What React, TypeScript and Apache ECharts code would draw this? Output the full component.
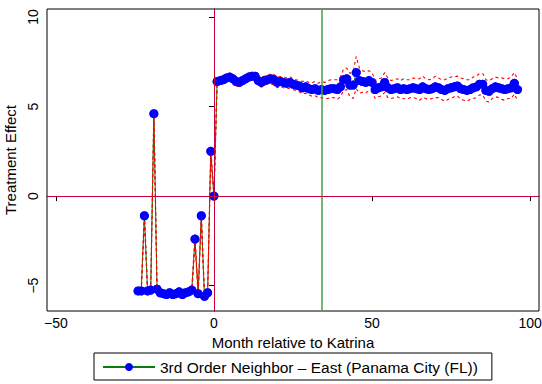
import React, { useEffect, useRef } from "react";
import * as echarts from "echarts";

// Months relative to Katrina (x positions of the monthly estimates)
const months: number[] = Array.from({ length: 121 }, (_, i) => i - 24);

// Point estimates, months -24 .. 96
const estimate: number[] = [
  // -24 .. 0
  -5.3, -5.3, -1.1, -5.3, -5.25, 4.6, -5.2, -5.4, -5.45, -5.5,
  -5.4, -5.5, -5.45, -5.35, -5.5, -5.4, -5.35, -5.25, -2.4, -5.45,
  -1.1, -5.6, -5.4, 2.5, 0,
  // 1 .. 10
  6.4, 6.45, 6.5, 6.6, 6.65, 6.55, 6.4, 6.35, 6.45, 6.55,
  // 11 .. 20
  6.65, 6.7, 6.7, 6.45, 6.35, 6.45, 6.5, 6.55, 6.5, 6.35,
  // 21 .. 30
  6.4, 6.35, 6.3, 6.35, 6.25, 6.2, 6.15, 6.05, 6.1, 6.0,
  // 31 .. 40
  5.95, 6.0, 5.9, 5.95, 5.9, 5.95, 6.0, 6.0, 5.95, 6.1,
  // 41 .. 50
  6.5, 6.55, 6.2, 6.2, 6.9, 6.45, 6.4, 6.35, 6.45, 6.35,
  // 51 .. 60
  5.95, 6.05, 6.1, 6.35, 6.05, 5.95, 6.0, 6.05, 5.95, 6.0,
  // 61 .. 70
  5.95, 6.0, 6.05, 6.0, 5.95, 6.1, 6.0, 5.95, 6.0, 6.1,
  // 71 .. 80
  6.05, 5.95, 5.9, 6.0, 6.05, 6.1, 6.15, 6.0, 5.95, 5.9,
  // 81 .. 90
  5.95, 6.05, 6.1, 6.25, 6.25, 5.9, 5.85, 6.0, 6.1, 6.05,
  // 91 .. 96
  6.0, 5.95, 6.0, 6.05, 6.3, 5.95,
];

// Half-width of the confidence band
const ciHalf: number[] = [
  // -24 .. 0
  0.15, 0.15, 0.25, 0.15, 0.15, 0.3, 0.15, 0.15, 0.15, 0.15,
  0.15, 0.15, 0.15, 0.15, 0.15, 0.15, 0.15, 0.15, 0.2, 0.15,
  0.2, 0.15, 0.15, 0.2, 0.05,
  // 1 .. 10
  0.2, 0.2, 0.2, 0.22, 0.2, 0.22, 0.25, 0.25, 0.22, 0.2,
  // 11 .. 20
  0.2, 0.22, 0.2, 0.25, 0.28, 0.25, 0.25, 0.28, 0.3, 0.3,
  // 21 .. 30
  0.28, 0.3, 0.3, 0.32, 0.3, 0.3, 0.32, 0.35, 0.35, 0.35,
  // 31 .. 40
  0.38, 0.4, 0.4, 0.45, 0.45, 0.5, 0.5, 0.5, 0.55, 0.55,
  // 41 .. 50
  0.6, 0.6, 0.65, 0.75, 0.9, 0.7, 0.6, 0.6, 0.55, 0.55,
  // 51 .. 60
  0.5, 0.5, 0.5, 0.55, 0.55, 0.5, 0.5, 0.5, 0.5, 0.55,
  // 61 .. 70
  0.55, 0.5, 0.55, 0.55, 0.6, 0.6, 0.55, 0.55, 0.55, 0.6,
  // 71 .. 80
  0.55, 0.55, 0.6, 0.6, 0.6, 0.55, 0.55, 0.6, 0.6, 0.6,
  // 81 .. 90
  0.55, 0.6, 0.6, 0.6, 0.6, 0.6, 0.6, 0.55, 0.55, 0.55,
  // 91 .. 96
  0.6, 0.6, 0.55, 0.6, 0.6, 0.6,
];

const xTicks: number[] = [-50, 0, 50, 100];
const yTicks: number[] = [-5, 0, 5, 10];
const eventMonth = 0;
const greenLineMonth = 34;
const zeroEffect = 0;

const seriesName = "3rd Order Neighbor \u2013 East (Panama City (FL))";

export default function App() {
  const ref = useRef<HTMLDivElement>(null);

  useEffect(() => {
    if (!ref.current) return;
    const chart = echarts.init(ref.current, null, { renderer: "svg" });
    const font = "'Liberation Sans', Arial, Helvetica, sans-serif";
    const fmt = (v: number) => (v < 0 ? "\u2212" + Math.abs(v) : String(v));

    const est = months.map((m, i) => [m, estimate[i]]);
    const upper = months.map((m, i) => [m, +(estimate[i] + ciHalf[i]).toFixed(3)]);
    const lower = months.map((m, i) => [m, +(estimate[i] - ciHalf[i]).toFixed(3)]);

    chart.setOption({
      animation: false,
      backgroundColor: "#ffffff",
      textStyle: { fontFamily: font },
      grid: {
        left: 47,
        right: 3,
        top: 9,
        bottom: 73,
        containLabel: false,
        outerBoundsMode: "none",
        show: true,
        borderColor: "#000",
        borderWidth: 1,
        backgroundColor: "#fff",
      },
      legend: {
        data: [seriesName],
        left: 94,
        top: 353,
        padding: [6, 14, 5, 8],
        itemWidth: 52,
        itemHeight: 10,
        itemGap: 5,
        borderColor: "#000",
        borderWidth: 1,
        textStyle: { fontFamily: font, fontSize: 15.5, color: "#000" },
      },
      xAxis: {
        type: "value",
        min: -52.8,
        max: 102.8,
        name: "Month relative to Katrina",
        nameLocation: "middle",
        nameGap: 19,
        nameTextStyle: { fontFamily: font, fontSize: 15, color: "#000" },
        axisLine: { show: true, lineStyle: { color: "#000", width: 1 } },
        axisTick: { show: true, customValues: xTicks, length: 5, lineStyle: { color: "#000" } },
        axisLabel: {
          customValues: xTicks,
          formatter: fmt,
          fontFamily: font,
          fontSize: 14,
          color: "#000",
          margin: 5,
          showMinLabel: true,
          showMaxLabel: true,
        },
        splitLine: { show: false },
      },
      yAxis: {
        type: "value",
        min: -6.42,
        max: 10.45,
        name: "Treatment Effect",
        nameLocation: "middle",
        nameGap: 21,
        nameTextStyle: { fontFamily: font, fontSize: 15, color: "#000" },
        axisLine: { show: true, lineStyle: { color: "#000", width: 1 } },
        axisTick: { show: true, customValues: yTicks, length: 5, lineStyle: { color: "#000" } },
        axisLabel: {
          customValues: yTicks,
          formatter: fmt,
          rotate: 90,
          fontFamily: font,
          fontSize: 14,
          color: "#000",
          margin: 7,
          showMinLabel: true,
          showMaxLabel: true,
        },
        splitLine: { show: false },
      },
      series: [
        {
          name: "refLines",
          type: "line",
          data: [[eventMonth, zeroEffect]],
          symbol: "none",
          lineStyle: { opacity: 0 },
          silent: true,
          z: 1,
          markLine: {
            silent: true,
            symbol: ["none", "none"],
            label: { show: false },
            animation: false,
            data: [
              { xAxis: eventMonth, lineStyle: { color: "#c8003c", width: 1, type: "solid" } },
              { xAxis: greenLineMonth, lineStyle: { color: "#45a045", width: 1.5, type: "solid" } },
              { yAxis: zeroEffect, lineStyle: { color: "#c8003c", width: 1, type: "solid" } },
            ],
          },
        },
        {
          name: seriesName,
          type: "line",
          data: est,
          symbol: "circle",
          symbolSize: 9,
          showSymbol: true,
          itemStyle: { color: "#0000ff" },
          lineStyle: { color: "#0a7a0a", width: 1 },
          z: 2,
          silent: true,
        },
        {
          name: "upper",
          type: "line",
          data: upper,
          symbol: "none",
          lineStyle: { color: "#ff0000", width: 1.1, type: [3, 3] },
          z: 3,
          silent: true,
        },
        {
          name: "lower",
          type: "line",
          data: lower,
          symbol: "none",
          lineStyle: { color: "#ff0000", width: 1.1, type: [3, 3] },
          z: 3,
          silent: true,
        },
        {
          name: "markers",
          type: "scatter",
          data: est,
          symbol: "circle",
          symbolSize: 9,
          itemStyle: { color: "#0000ff" },
          z: 4,
          silent: true,
        },
      ],
    });

    return () => chart.dispose();
  }, []);

  return (
    <div
      ref={ref}
      style={{ position: "absolute", left: 0, top: 0, width: 542, height: 384, background: "#fff" }}
    />
  );
}
